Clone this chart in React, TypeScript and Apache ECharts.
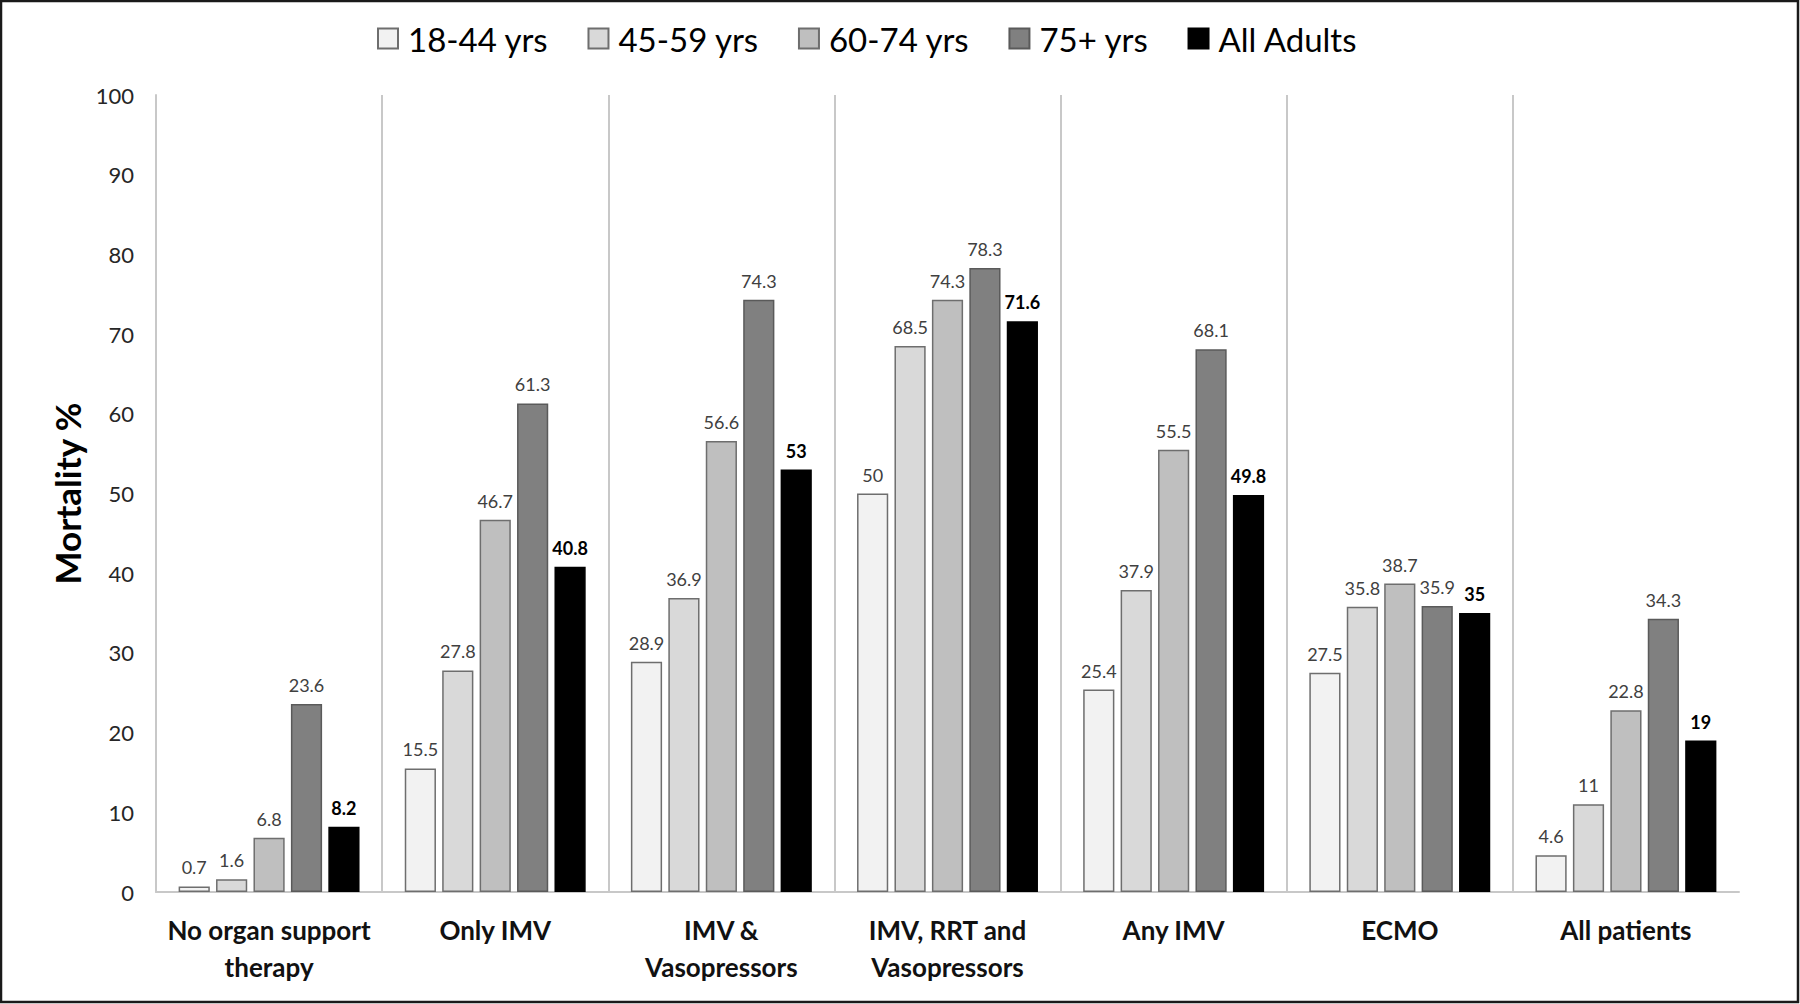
import React, { useEffect, useRef } from "react";
import * as echarts from "echarts";

const categories = [
  "No organ support\ntherapy",
  "Only IMV",
  "IMV &\nVasopressors",
  "IMV, RRT and\nVasopressors",
  "Any IMV",
  "ECMO",
  "All patients",
];
const seriesNames = ["18-44 yrs", "45-59 yrs", "60-74 yrs", "75+ yrs", "All Adults"];
const age18to44 = [0.7, 15.5, 28.9, 50, 25.4, 27.5, 4.6];
const age45to59 = [1.6, 27.8, 36.9, 68.5, 37.9, 35.8, 11];
const age60to74 = [6.8, 46.7, 56.6, 74.3, 55.5, 38.7, 22.8];
const age75plus = [23.6, 61.3, 74.3, 78.3, 68.1, 35.9, 34.3];
const allAdults = [8.2, 40.8, 53, 71.6, 49.8, 35, 19];
const yTicks = { min: 0, max: 100, interval: 10 };

const seriesValues = [age18to44, age45to59, age60to74, age75plus, allAdults];
const fills = ["#f2f2f2", "#d9d9d9", "#bfbfbf", "#808080", "#000000"];
const borders = ["#6e6e6e", "#6e6e6e", "#6e6e6e", "#5a5a5a", "#000000"];

// boundaries between neighbouring categories (1 .. n-1)
const separators = categories.slice(1).map((_, i) => i + 1);

const FONT = "Lato, 'Open Sans', sans-serif";
const GRID_GRAY = "#c8c8c8";

export default function App() {
  const ref = useRef<HTMLDivElement>(null);
  useEffect(() => {
    if (!ref.current) return;
    const chart = echarts.init(ref.current, null, { renderer: "svg" });
    chart.setOption({
      animation: false,
      backgroundColor: "#ffffff",
      textStyle: { fontFamily: FONT },
      graphic: [
        {
          type: "rect",
          shape: { x: 1, y: 1, width: 1797, height: 1001 },
          style: { fill: "none", stroke: "#1a1a1a", lineWidth: 2.5 },
          silent: true,
          z: 100,
        },
      ],
      legend: {
        top: 17,
        left: 372,
        itemWidth: 20,
        itemHeight: 20,
        itemGap: 39,
        icon: "rect",
        formatter: (name: string) => "{t|" + name + "}",
        textStyle: {
          fontSize: 33,
          color: "#000",
          fontFamily: FONT,
          rich: {
            t: { fontSize: 33, color: "#000", fontFamily: FONT, padding: [0, 0, 0, 5] },
          },
        },
        data: seriesNames,
      },
      grid: { left: 156, right: 61, top: 95, bottom: 112, containLabel: false },
      xAxis: [
        {
          type: "category",
          data: categories,
          axisLine: { show: true, lineStyle: { color: GRID_GRAY, width: 2 } },
          axisTick: { show: false },
          splitLine: { show: false },
          axisLabel: {
            interval: 0,
            fontSize: 26,
            fontWeight: "bold",
            color: "#111",
            lineHeight: 37,
            margin: 19,
            fontFamily: FONT,
          },
        },
        {
          type: "value",
          position: "top",
          min: 0,
          max: categories.length,
          interval: 1,
          show: false,
          splitLine: { show: false },
        },
      ],
      yAxis: {
        type: "value",
        min: yTicks.min,
        max: yTicks.max,
        interval: yTicks.interval,
        axisLine: { show: true, lineStyle: { color: GRID_GRAY, width: 2 } },
        axisTick: { show: false },
        splitLine: { show: false },
        axisLabel: { fontSize: 22, color: "#262626", margin: 22, fontFamily: FONT },
        name: "Mortality %",
        nameLocation: "middle",
        nameGap: 71,
        nameTextStyle: { fontSize: 35, fontWeight: "bold", color: "#000", fontFamily: FONT },
      },
      series: [
        ...seriesNames.map((name, i) => ({
          name,
          type: "bar",
          xAxisIndex: 0,
          data: seriesValues[i],
          barGap: "20%",
          barCategoryGap: "20%",
          z: 3,
          itemStyle: { color: fills[i], borderColor: borders[i], borderWidth: 1.5 },
          label: {
            show: true,
            position: "top",
            distance: 10,
            fontSize: 18,
            fontFamily: FONT,
            color: i === 4 ? "#000" : "#404040",
            fontWeight: i === 4 ? "bold" : "normal",
          },
        })),
        {
          name: "separators",
          type: "line",
          xAxisIndex: 1,
          data: [],
          silent: true,
          z: 1,
          markLine: {
            silent: true,
            symbol: "none",
            label: { show: false },
            lineStyle: { color: GRID_GRAY, width: 2, type: "solid" },
            data: separators.map((v) => ({ xAxis: v })),
          },
        },
      ],
    });
    return () => chart.dispose();
  }, []);
  return (
    <div
      ref={ref}
      style={{ position: "fixed", left: 0, top: 0, width: 1800, height: 1004 }}
    />
  );
}
